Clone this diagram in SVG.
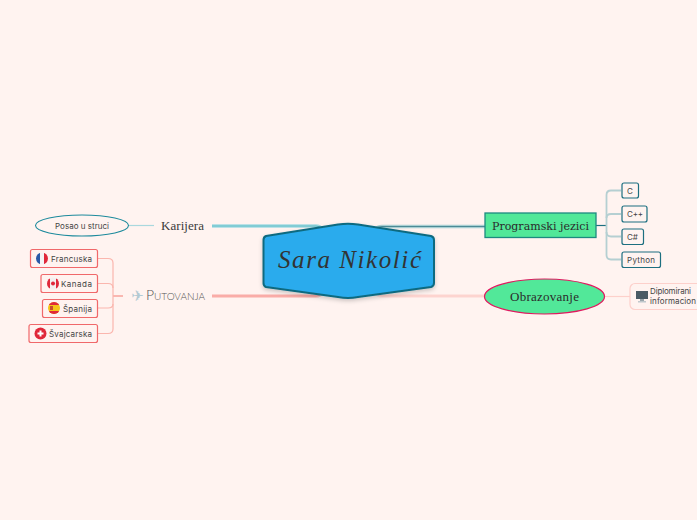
<svg xmlns="http://www.w3.org/2000/svg" width="697" height="520" viewBox="0 0 697 520">
<style>
.s{font-family:"Inter","Noto Sans",sans-serif;font-size:8px;fill:#444}
.teal{fill:none;stroke:#b5cfd2;stroke-width:1.800}
.pink{fill:none;stroke:#fbb6ae;stroke-width:1.200}
.rb{fill:#fff3f0;stroke:#f0686a;stroke-width:1.200}
.tb{fill:#fff3f0;stroke:#1d6f80;stroke-width:1.200}
.w{fill:none;stroke-width:3.600}
.n{fill:none;stroke-width:1}
</style>
<defs>
<filter id="sh" x="-10%" y="-10%" width="120%" height="125%"><feDropShadow dx="0" dy="2" stdDeviation="2" flood-color="#000" flood-opacity=".2"/></filter>
<clipPath id="cf"><circle cx="42" cy="258.500" r="6"/></clipPath>
<clipPath id="cc"><circle cx="53" cy="283.500" r="6"/></clipPath>
<clipPath id="ce"><circle cx="54" cy="308" r="6"/></clipPath>
</defs>
<rect width="697" height="520" fill="#fff3f0"/>
<g id="connectors" fill="none">
<path class="w" d="M212 226H316Q320 226 322 229" stroke="#a5dce2"/>
<path class="n" d="M212 226H316Q320 226 322 229" stroke="#5fbcc8"/>
<path class="w" d="M485 226.500H382Q378 226.500 376 229" stroke="#a9cfd2"/>
<path class="n" d="M485 226.500H382Q378 226.500 376 229" stroke="#4d8a96"/>
<path class="w" d="M212 296H316Q320 296 322 293" stroke="#fcc4bf"/>
<path class="n" d="M212 296H316Q320 296 322 293" stroke="#f79591"/>
<path class="w" d="M485 296H382Q378 296 376 293" stroke="#fee0dc"/>
<path class="n" d="M485 296H382Q378 296 376 293" stroke="#fcc8c3"/>
<path d="M128 225.500H154" stroke="#a9d8de" stroke-width="1.200"/>
<path d="M596 225.500H606" stroke="#1d6f80" stroke-width="1.200"/>
<path class="teal" d="M621 190.500H611Q606.500 190.500 606.500 195V255Q606.500 259.500 611 259.500H621"/>
<path class="teal" d="M606.500 218Q606.500 214 611 214H621"/>
<path class="teal" d="M606.500 232Q606.500 236.500 611 236.500H621"/>
<path d="M113 296H123" stroke="#f58f88" stroke-width="1.200"/>
<path class="pink" d="M98 258.500H108Q113 258.500 113 263V329Q113 333.500 108 333.500H98"/>
<path class="pink" d="M98 283.500H108Q113 283.500 113 288"/>
<path class="pink" d="M98 308H108Q113 308 113 304"/>
<path d="M605 296.500H630" stroke="#fdd0cb" stroke-width="1.200"/>
</g>
<g id="center">
<path d="M266 236L338 224.500Q348 223 358 224.500L431 236Q434 237 434 240V283Q434 286 431 287L358 297Q348 299 338 297L266 287Q263.500 286 263.500 283V240Q263.500 237 266 236Z" fill="#29abed" stroke="#0f6a80" stroke-width="2" filter="url(#sh)"/>
<text x="278" y="268" font-family="Liberation Serif,serif" font-style="italic" font-size="25" fill="#333" textLength="143" lengthAdjust="spacing">Sara Nikolić</text>
</g>
<g id="karijera"><text x="161" y="230" font-family="Liberation Serif,serif" font-size="13" fill="#3a3a3a" textLength="43">Karijera</text></g>
<g id="posao"><ellipse cx="82" cy="225.500" rx="46.500" ry="10.500" fill="#fff3f0" stroke="#1d8a9c" stroke-width="1.100"/><text class="s" x="55" y="229" textLength="54">Posao u struci</text></g>
<g id="putovanja">
<text x="137.500" y="301" text-anchor="middle" font-family="DejaVu Sans,sans-serif" font-size="15" fill="#b3cad3">✈</text>
<text x="146" y="300" font-family="Lato,sans-serif" font-weight="300" font-size="14" style="font-variant-caps:small-caps" fill="#555" textLength="59">Putovanja</text>
</g>
<g id="francuska"><rect class="rb" x="30.500" y="249.500" width="67" height="18" rx="2"/><g clip-path="url(#cf)"><rect x="36" y="252" width="4" height="13" fill="#2a5aa8"/><rect x="40" y="252" width="4" height="13" fill="#f4f4f4"/><rect x="44" y="252" width="4" height="13" fill="#e0283a"/></g><text class="s" x="51" y="262" textLength="41">Francuska</text></g>
<g id="kanada"><rect class="rb" x="41" y="274.500" width="56.500" height="18" rx="2"/><g clip-path="url(#cc)"><rect x="47" y="277" width="12" height="13" fill="#f4f0f0"/><rect x="47" y="277" width="3" height="13" fill="#e0283a"/><rect x="56" y="277" width="3" height="13" fill="#e0283a"/><circle cx="53" cy="283.500" r="2" fill="#e0283a"/></g><text class="s" x="61" y="287" textLength="31">Kanada</text></g>
<g id="spanija"><rect class="rb" x="42.500" y="299.500" width="55" height="18" rx="2"/><g clip-path="url(#ce)"><rect x="48" y="302" width="12" height="12" fill="#f5c518"/><rect x="48" y="302" width="12" height="3" fill="#e0283a"/><rect x="48" y="311" width="12" height="3" fill="#e0283a"/><rect x="50" y="306" width="3" height="4" fill="#c8502a"/></g><text class="s" x="63" y="312" textLength="29">Španija</text></g>
<g id="svajcarska"><rect class="rb" x="29" y="324.500" width="68.500" height="18" rx="2"/><circle cx="40.500" cy="333.500" r="6" fill="#e0283a"/><path d="M37.500 333.500H43.500M40.500 330.500V336.500" stroke="#fff" stroke-width="2"/><text class="s" x="49" y="337" textLength="43">Švajcarska</text></g>
<g id="programski"><rect x="485" y="213" width="111" height="24.500" fill="#52e899" stroke="#1d8a80" stroke-width="1.300"/><text x="492" y="230" font-family="DejaVu Serif,serif" font-size="11" fill="#2b2b2b" textLength="97" lengthAdjust="spacingAndGlyphs">Programski jezici</text></g>
<g id="c"><rect class="tb" x="622" y="183" width="16.500" height="15" rx="2"/><text class="s" x="627" y="194">C</text></g>
<g id="cpp"><rect class="tb" x="622" y="206" width="25" height="16" rx="2"/><text class="s" x="627" y="217" textLength="16">C++</text></g>
<g id="cs"><rect class="tb" x="622" y="229" width="21.500" height="15.500" rx="2"/><text class="s" x="627" y="240">C#</text></g>
<g id="python"><rect class="tb" x="622" y="252" width="38.500" height="15.500" rx="2"/><text class="s" x="627" y="263" textLength="28">Python</text></g>
<g id="obrazovanje"><ellipse cx="544.500" cy="296.500" rx="60" ry="17.500" fill="#52e899" stroke="#e0195f" stroke-width="1.200"/><text x="510" y="301" font-family="Liberation Serif,serif" font-size="13" fill="#2b2b2b" textLength="69">Obrazovanje</text></g>
<g id="diplomirani"><rect x="630" y="283.500" width="80" height="26" rx="5" fill="#fff3f0" stroke="#fdd0cb" stroke-width="1.200"/>
<rect x="636" y="291" width="12" height="8" fill="#4a5a64"/><rect x="640" y="299" width="4" height="2" fill="#9aa6ac"/><rect x="638" y="301" width="8" height="1.500" fill="#c0c8cc"/>
<text class="s" x="650" y="294" textLength="41">Diplomirani</text><text class="s" x="650" y="304" textLength="46">informacion</text></g>
</svg>
